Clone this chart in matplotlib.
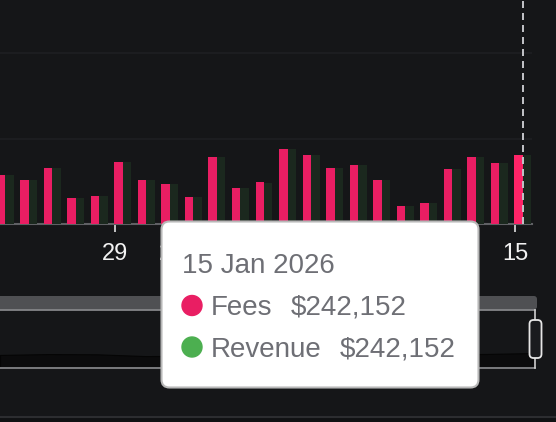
import matplotlib
matplotlib.use('Agg')
import matplotlib.pyplot as plt
import matplotlib.dates as mdates
import pandas as pd
from matplotlib.patches import FancyBboxPatch, Circle, Rectangle

# ---------------- data ----------------
day_labels = pd.date_range('2025-12-24', '2026-01-15', freq='D')
fees = [172000, 156000, 198000, 92000, 98000, 219000, 154000, 140000, 95000,
        235000, 126000, 147000, 263000, 243000, 196000, 207000, 156000, 64000,
        75000, 194000, 236000, 215000, 242152]
revenue = [171000, 154000, 197000, 91000, 98000, 218000, 153000, 139000, 95000,
           235000, 126000, 145000, 263000, 243000, 196000, 206000, 156000, 64000,
           75000, 193000, 236000, 215000, 242152]
tick_dates = ['2025-12-29', '2026-01-01', '2026-01-15']
tick_labels = ['29', '2026', '15']
grid_values = [300000, 600000]
shadow_values = [225000, 240000, 236000, 205000, 212000, 258000, 250000, 232000,
                 230000, 236000, 242000, 258000]
tooltip_date = '15 Jan 2026'
tooltip_fees = '$242,152'
tooltip_revenue = '$242,152'

# ---------------- style ----------------
W, H = 556, 422
BG = '#151618'
GRID = '#1f2023'
PINK = '#e91e63'
PINK_HI = '#ff2468'
GREEN_BAR = '#1b281e'
GREEN_DOT = '#4caf50'
TT_TEXT = '#6e6f75'
FONT = 'Liberation Sans'

fig = plt.figure(figsize=(W / 100, H / 100), dpi=100, facecolor=BG)

base_px = 224.0
ax = fig.add_axes([0, (H - base_px) / H, 532 / W, base_px / H])
ax.set_facecolor(BG)

ts = day_labels + pd.Timedelta(hours=8)
x = mdates.date2num(ts)
bw = 0.36
pink_colors = [PINK] * (len(fees) - 1) + [PINK_HI]
ax.bar(x - bw / 2, fees, width=bw, color=pink_colors, zorder=3)
ax.bar(x + bw / 2, revenue, width=bw, color=GREEN_BAR, zorder=3)

px_per_day = 23.53
last_mid = mdates.date2num(pd.Timestamp(tick_dates[-1]))
ax.set_xlim(last_mid - 515 / px_per_day, last_mid + 17 / px_per_day)
ax.set_ylim(0, base_px * grid_values[0] / 85.5)

ax.set_yticks(grid_values)
ax.yaxis.grid(True, color=GRID, lw=1.1)
ax.set_axisbelow(True)
ax.tick_params(axis='y', left=False, labelleft=False)
for s in ['top', 'right', 'left']:
    ax.spines[s].set_visible(False)
ax.spines['bottom'].set_color('#5f6064')
ax.spines['bottom'].set_linewidth(1.5)

ax.set_xticks(mdates.date2num(pd.to_datetime(tick_dates)))
ax.set_xticklabels(tick_labels, fontsize=17, family=FONT, color='#f2f2f2')
ax.tick_params(axis='x', colors='#f2f2f2', length=5.8, width=1.1, pad=8)
for lab in ax.get_xticklabels():
    lab.set_color('#f2f2f2')

ax.axvline(x[-1], color='#bfc0c4', lw=1.44, ls=(0, (3.5, 2.5)), zorder=5)

# ---------------- data zoom slider ----------------
sl = fig.add_axes([0, (H - 368) / H, 535 / W, 58 / H], zorder=5)
sl.set_facecolor(BG)
sl.fill_between(range(len(shadow_values)), shadow_values, 0, color='#0b0b0c',
                edgecolor='#050505', lw=0.8)
sl.set_xlim(0, len(shadow_values) - 1)
sl.set_ylim(0, 1000000)
sl.axis('off')

ov = fig.add_axes([0, 0, 1, 1], zorder=10)
ov.set_xlim(0, W)
ov.set_ylim(H, 0)
ov.axis('off')
ov.patch.set_alpha(0)

ov.add_patch(FancyBboxPatch((-10, 296), 547, 13.5,
                            boxstyle='round,pad=0,rounding_size=3',
                            fc='#4f5053', ec='none', zorder=1))
ov.plot([0, 535], [310, 310], color='#8e8f92', lw=1.2, zorder=2)
ov.plot([0, 535], [368, 368], color='#8e8f92', lw=1.2, zorder=2)
ov.plot([535, 535], [310, 368], color='#d0d0d0', lw=1.2, zorder=2)
ov.add_patch(FancyBboxPatch((529.5, 320), 12, 38,
                            boxstyle='round,pad=0,rounding_size=4',
                            fc='#1a1b1e', ec='#e6e6e6', lw=1.3, zorder=3))
ov.plot([0, W], [417, 417], color='#2c2d30', lw=1.5, zorder=2)
ov.add_patch(Rectangle((0, 418), W, 4, fc='#101113', ec='none', zorder=1))

# ---------------- tooltip ----------------
ov.add_patch(FancyBboxPatch((161.5, 221.5), 317, 166,
                            boxstyle='round,pad=0,rounding_size=8',
                            fc='white', ec='#b8b8b8', lw=1.5, zorder=20))
ov.text(182, 272.7, tooltip_date, fontsize=20, family=FONT, color=TT_TEXT,
        va='baseline', ha='left', zorder=21)
ov.add_patch(Circle((192, 305.5), 10, color=PINK, zorder=21))
ov.add_patch(Circle((192, 347), 10, color=GREEN_DOT, zorder=21))
ov.text(211, 315, 'Fees', fontsize=20, family=FONT, color=TT_TEXT,
        va='baseline', ha='left', zorder=21)
ov.text(291, 315, tooltip_fees, fontsize=20, family=FONT, color=TT_TEXT,
        va='baseline', ha='left', zorder=21)
ov.text(211, 357, 'Revenue', fontsize=20, family=FONT, color=TT_TEXT,
        va='baseline', ha='left', zorder=21)
ov.text(340, 357, tooltip_revenue, fontsize=20, family=FONT, color=TT_TEXT,
        va='baseline', ha='left', zorder=21)

fig.savefig('out.png', dpi=100, facecolor=BG)
